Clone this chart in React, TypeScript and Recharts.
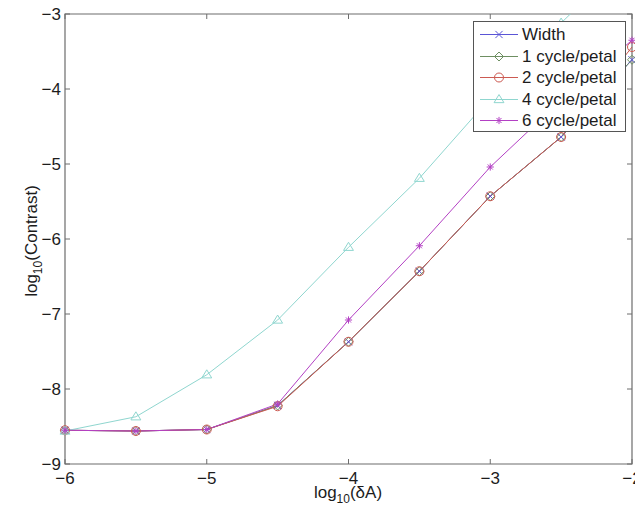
import React from 'react';
import { LineChart, Line, XAxis, YAxis, ReferenceArea, Legend } from 'recharts';

const xValues = [-6, -5.5, -5, -4.5, -4, -3.5, -3, -2.5, -2];
const widthSeries = [-8.55, -8.56, -8.54, -8.22, -7.37, -6.43, -5.43, -4.64, -3.61];
const cycle1 = [-8.55, -8.56, -8.54, -8.22, -7.37, -6.43, -5.43, -4.64, -3.61];
const cycle2 = [-8.55, -8.56, -8.54, -8.23, -7.37, -6.43, -5.43, -4.64, -3.44];
const cycle4 = [-8.56, -8.37, -7.81, -7.08, -6.11, -5.19, -4.12, -3.12, -2.2];
const cycle6 = [-8.55, -8.56, -8.54, -8.2, -7.08, -6.09, -5.04, -4.15, -3.35];

const xTicks = [-6, -5, -4, -3, -2];
const yTicks = [-9, -8, -7, -6, -5, -4, -3];

const seriesNames = ['Width', '1 cycle/petal', '2 cycle/petal', '4 cycle/petal', '6 cycle/petal'];

const series = [
  { key: 'width', name: seriesNames[0], color: '#5a55d6', shape: 'x' },
  { key: 'c1', name: seriesNames[1], color: '#6e8f62', shape: 'diamond' },
  { key: 'c2', name: seriesNames[2], color: '#cc5a52', shape: 'circle' },
  { key: 'c4', name: seriesNames[3], color: '#8fd6cf', shape: 'triangle' },
  { key: 'c6', name: seriesNames[4], color: '#b340c4', shape: 'star' },
];

const data = xValues.map((x, i) => ({
  x,
  width: widthSeries[i],
  c1: cycle1[i],
  c2: cycle2[i],
  c4: cycle4[i],
  c6: cycle6[i],
}));

// plot box edges in px
const LEFT = 65;
const RIGHT = 632;
const TOP = 14;
const BOTTOM = 464;
const TICK_LEN = 5;
const FONT = '"Liberation Sans", Arial, Helvetica, sans-serif';
const TEXT = '#1c1c1c';
const FRAME = '#6d6d6d';

const fmt = (v: number) => (v < 0 ? '\u2212' + Math.abs(v) : String(v));

function Marker({ shape, cx, cy, color, s = 4.5 }: any) {
  if (cx == null || cy == null) return null;
  switch (shape) {
    case 'x':
      return <path d={`M${cx - s * 0.8},${cy - s * 0.8}L${cx + s * 0.8},${cy + s * 0.8}M${cx - s * 0.8},${cy + s * 0.8}L${cx + s * 0.8},${cy - s * 0.8}`} stroke={color} fill="none" />;
    case 'diamond':
      return <polygon points={`${cx},${cy - s} ${cx + s},${cy} ${cx},${cy + s} ${cx - s},${cy}`} stroke={color} fill="none" />;
    case 'circle':
      return <circle cx={cx} cy={cy} r={s} stroke={color} fill="none" />;
    case 'triangle':
      return <polygon points={`${cx},${cy - s * 1.1} ${cx + s * 1.1},${cy + s * 0.7} ${cx - s * 1.1},${cy + s * 0.7}`} stroke={color} fill="none" />;
    case 'star': {
      const d = s * 0.8;
      const e = d * 0.7;
      return <path d={`M${cx - d},${cy}L${cx + d},${cy}M${cx},${cy - d}L${cx},${cy + d}M${cx - e},${cy - e}L${cx + e},${cy + e}M${cx - e},${cy + e}L${cx + e},${cy - e}`} stroke={color} fill="none" />;
    }
    default:
      return null;
  }
}

const XTick = (props: any) => {
  const { x, payload } = props;
  return (
    <g>
      <line x1={x} x2={x} y1={BOTTOM} y2={BOTTOM - TICK_LEN} stroke={FRAME} />
      <line x1={x} x2={x} y1={TOP} y2={TOP + TICK_LEN} stroke={FRAME} />
      <text x={x} y={484} textAnchor="middle" fontSize={17} fill={TEXT} fontFamily={FONT}>
        {fmt(payload.value)}
      </text>
    </g>
  );
};

const YTick = (props: any) => {
  const { y, payload } = props;
  return (
    <g>
      <line x1={LEFT} x2={LEFT + TICK_LEN} y1={y} y2={y} stroke={FRAME} />
      <line x1={RIGHT} x2={RIGHT - TICK_LEN} y1={y} y2={y} stroke={FRAME} />
      <text x={61} y={y + 6} textAnchor="end" fontSize={17} fill={TEXT} fontFamily={FONT}>
        {fmt(payload.value)}
      </text>
    </g>
  );
};

const LegendBox = () => (
  <div
    style={{
      background: '#fff',
      border: '1px solid #555',
      width: 153,
      height: 111,
      boxSizing: 'border-box',
      paddingTop: 2,
      fontFamily: FONT,
      fontSize: 17,
      color: TEXT,
    }}
  >
    {series.map((s) => (
      <div key={s.key} style={{ height: 21.5, display: 'flex', alignItems: 'center' }}>
        <svg width={48} height={21} style={{ flex: 'none' }}>
          <line x1={6} x2={44} y1={10.5} y2={10.5} stroke={s.color} />
          <Marker shape={s.shape} cx={25} cy={10.5} color={s.color} />
        </svg>
        <span style={{ lineHeight: '21px', whiteSpace: 'nowrap' }}>{s.name}</span>
      </div>
    ))}
  </div>
);

export default function App() {
  return (
    <div style={{ position: 'absolute', left: 0, top: 0, width: 635, height: 505, background: '#fff', fontFamily: FONT }}>
      <LineChart width={635} height={505} data={data} margin={{ top: TOP, right: 635 - RIGHT, bottom: 0, left: 0 }}>
        <XAxis
          dataKey="x"
          type="number"
          domain={[-6, -2]}
          ticks={xTicks}
          interval={0}
          height={505 - BOTTOM}
          axisLine={false}
          tickLine={false}
          tick={<XTick />}
          label={{
            content: () => (
              <text x={348} y={498} textAnchor="middle" fontSize={17} fill={TEXT} fontFamily={FONT}>
                log<tspan fontSize={12} dy={5}>10</tspan>
                <tspan dy={-5}>(δA)</tspan>
              </text>
            ),
          }}
        />
        <YAxis
          type="number"
          domain={[-9, -3]}
          ticks={yTicks}
          interval={0}
          allowDataOverflow
          width={LEFT}
          axisLine={false}
          tickLine={false}
          tick={<YTick />}
          label={{
            content: () => (
              <text transform="translate(37,241) rotate(-90)" textAnchor="middle" fontSize={17} fill={TEXT} fontFamily={FONT}>
                log<tspan fontSize={12} dy={5}>10</tspan>
                <tspan dy={-5}>(Contrast)</tspan>
              </text>
            ),
          }}
        />
        <ReferenceArea x1={-6} x2={-2} y1={-9} y2={-3} fill="none" stroke={FRAME} strokeWidth={1.2} />
        {series.map((s) => (
          <Line
            key={s.key}
            dataKey={s.key}
            name={s.name}
            type="linear"
            stroke={s.color}
            strokeWidth={1}
            isAnimationActive={false}
            dot={(p: any) => <Marker key={`${s.key}-${p.index}`} shape={s.shape} cx={p.cx} cy={p.cy} color={s.color} />}
            activeDot={false}
          />
        ))}
        <Legend
          layout="vertical"
          align="center"
          verticalAlign="middle"
          content={<LegendBox />}
          wrapperStyle={{ left: 473, top: 21, width: 153, height: 111 }}
        />
      </LineChart>
    </div>
  );
}
